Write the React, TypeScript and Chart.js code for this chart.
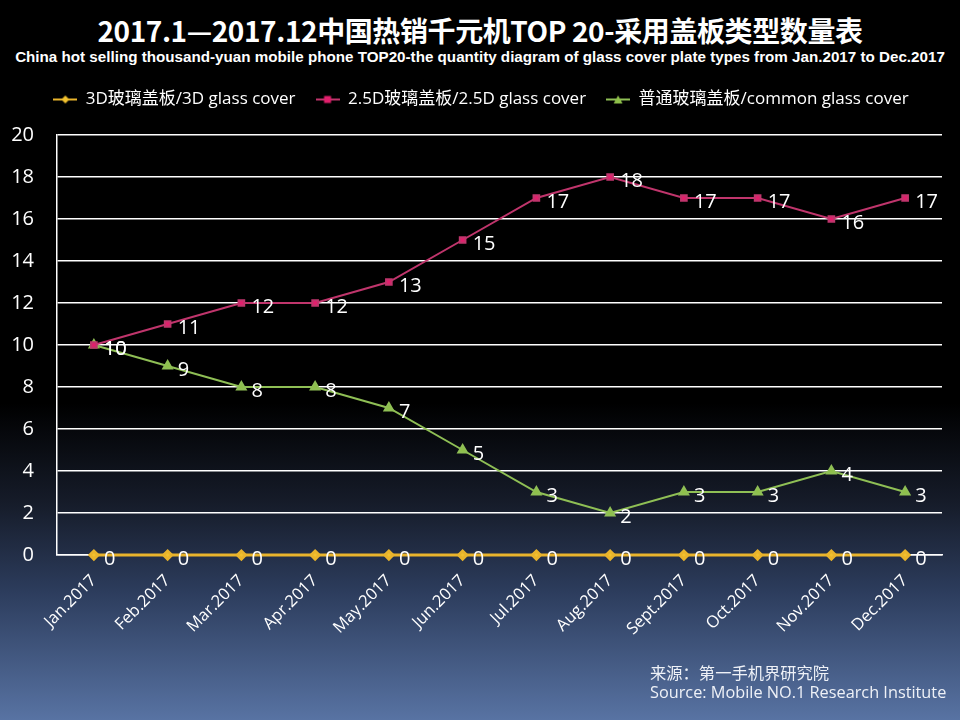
import React, { useEffect, useRef } from "react";
import Chart from "chart.js/auto";

const months = ["Jan.2017", "Feb.2017", "Mar.2017", "Apr.2017", "May.2017", "Jun.2017", "Jul.2017", "Aug.2017", "Sept.2017", "Oct.2017", "Nov.2017", "Dec.2017"];
const glass3D = [0, 0, 0, 0, 0, 0, 0, 0, 0, 0, 0, 0];
const glass25D = [10, 11, 12, 12, 13, 15, 17, 18, 17, 17, 16, 17];
const glassCommon = [10, 9, 8, 8, 7, 5, 3, 2, 3, 3, 4, 3];

const labelFont = "'Open Sans', 'Noto Sans CJK SC', sans-serif";

// small "line + marker" picture for the legend
function legendIcon(color: string, markerColor: string, style: string) {
  const c = document.createElement("canvas");
  c.width = 24;
  c.height = 12;
  const ctx = c.getContext("2d")!;
  ctx.strokeStyle = color;
  ctx.lineWidth = 2;
  ctx.beginPath();
  ctx.moveTo(0, 6);
  ctx.lineTo(24, 6);
  ctx.stroke();
  ctx.fillStyle = markerColor;
  ctx.beginPath();
  if (style === "diamond") {
    ctx.moveTo(12, 2); ctx.lineTo(16, 6); ctx.lineTo(12, 10); ctx.lineTo(8, 6);
  } else if (style === "rect") {
    ctx.rect(8.5, 2.5, 7, 7);
  } else {
    ctx.moveTo(12, 2); ctx.lineTo(16.5, 10); ctx.lineTo(7.5, 10);
  }
  ctx.closePath();
  ctx.fill();
  return c;
}

const valueLabels = {
  id: "valueLabels",
  afterDatasetsDraw(chart: any) {
    const ctx = chart.ctx;
    ctx.save();
    ctx.fillStyle = "#ffffff";
    ctx.font = `20px ${labelFont}`;
    ctx.textAlign = "left";
    ctx.textBaseline = "middle";
    chart.data.datasets.forEach((ds: any, i: number) => {
      const meta = chart.getDatasetMeta(i);
      meta.data.forEach((pt: any, j: number) => {
        ctx.fillText(String(ds.data[j]), pt.x + 10, pt.y + 4);
      });
    });
    ctx.restore();
  },
};

// extra room under the legend, and nudge it a little to the right
const legendGap = {
  id: "legendGap",
  beforeInit(chart: any) {
    const fit = chart.legend.fit;
    chart.legend.fit = function () {
      fit.bind(chart.legend)();
      this.height += 17;
    };
  },
  afterLayout(chart: any) {
    chart.legend.left += 10;
    chart.legend.right += 10;
  },
};

export default function App() {
  const canvasRef = useRef<HTMLCanvasElement>(null);

  useEffect(() => {
    if (!canvasRef.current) return;
    const icons = [
      legendIcon("#E9B42C", "#F2C12E", "diamond"),
      legendIcon("#C0356C", "#E21F6C", "rect"),
      legendIcon("#8FBF55", "#8FC04A", "triangle"),
    ];
    const chart = new Chart(canvasRef.current, {
      type: "line",
      data: {
        labels: months,
        datasets: [
          {
            label: "3D玻璃盖板/3D glass cover",
            data: glass3D,
            borderColor: "#E9B42C",
            backgroundColor: "#F2C12E",
            pointStyle: "rectRot",
            pointRadius: 4,
            borderWidth: 3,
            clip: false,
          },
          {
            label: "2.5D玻璃盖板/2.5D glass cover",
            data: glass25D,
            borderColor: "#C0356C",
            backgroundColor: "#E21F6C",
            pointStyle: "rect",
            pointRadius: 4,
            borderWidth: 2,
            clip: false,
          },
          {
            label: "普通玻璃盖板/common glass cover",
            data: glassCommon,
            borderColor: "#8FBF55",
            backgroundColor: "#8FC04A",
            pointStyle: "triangle",
            pointRadius: 5,
            borderWidth: 2,
            clip: false,
          },
        ],
      },
      options: {
        responsive: false,
        animation: false,
        layout: { padding: { top: 71, left: 0, right: 18, bottom: 73 } },
        plugins: {
          legend: {
            position: "top",
            align: "center",
            labels: {
              color: "#ffffff",
              font: { size: 17, family: labelFont },
              usePointStyle: true,
              pointStyleWidth: 24,
              padding: 20,
              generateLabels: (ch: any) =>
                ch.data.datasets.map((ds: any, i: number) => ({
                  text: ds.label,
                  fontColor: "#ffffff",
                  pointStyle: icons[i],
                  datasetIndex: i,
                  lineWidth: 0,
                })),
            },
          },
          tooltip: { enabled: false },
        },
        scales: {
          x: {
            offset: true,
            grid: { display: false },
            border: { display: true, color: "#ffffff", width: 1.5 },
            ticks: {
              color: "#ffffff",
              font: { size: 16.5, family: labelFont },
              minRotation: 45,
              maxRotation: 45,
              padding: 8,
            },
            afterFit: (s: any) => {
              s.paddingLeft = 0;
            },
          },
          y: {
            min: 0,
            max: 20,
            grid: { color: "#ffffff", lineWidth: 1.5, drawTicks: false },
            border: { display: true, color: "#ffffff", width: 1.5 },
            ticks: {
              stepSize: 2,
              color: "#ffffff",
              font: { size: 20, family: labelFont },
              padding: 23,
            },
            afterFit: (s: any) => {
              s.width = 57;
            },
          },
        },
      },
      plugins: [valueLabels, legendGap],
    });
    return () => chart.destroy();
  }, []);

  return (
    <div
      style={{
        position: "fixed",
        left: 0,
        top: 0,
        width: 960,
        height: 720,
        background:
          "linear-gradient(to bottom, #000000 0%, #000000 56%, #161c2a 70%, #2c3c5c 82%, #5873a3 100%)",
        fontFamily: labelFont,
        color: "#ffffff",
      }}
    >
      <div
        style={{
          position: "absolute",
          top: 13,
          left: 0,
          width: 960,
          textAlign: "center",
          fontFamily: "'Noto Sans CJK SC', sans-serif",
          fontWeight: 700,
          fontSize: 28,
          lineHeight: "34px",
          letterSpacing: -0.4,
        }}
      >
        2017.1—2017.12中国热销千元机TOP 20-采用盖板类型数量表
      </div>
      <div
        style={{
          position: "absolute",
          top: 48,
          left: 0,
          width: 960,
          textAlign: "center",
          fontFamily: "'Liberation Sans', sans-serif",
          fontWeight: 700,
          fontSize: 15.2,
          lineHeight: "18px",
        }}
      >
        China hot selling thousand-yuan mobile phone TOP20-the quantity diagram of glass cover plate types from Jan.2017 to Dec.2017
      </div>
      <canvas ref={canvasRef} width={960} height={720} style={{ position: "absolute", left: 0, top: 0 }} />
      <div
        style={{
          position: "absolute",
          left: 650,
          top: 664,
          fontSize: 16.3,
          lineHeight: "19px",
          color: "#eef1f7",
        }}
      >
        <div>来源：第一手机界研究院</div>
        <div>Source: Mobile NO.1 Research Institute</div>
      </div>
    </div>
  );
}
